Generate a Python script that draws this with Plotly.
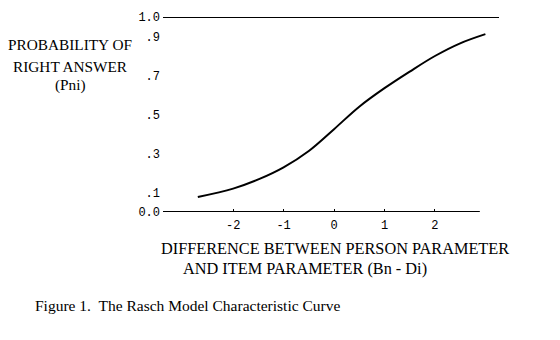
import plotly.graph_objects as go

# Curve values
x_vals = [-2.7, -2.0, -1.5, -1.0, -0.5, 0.0, 0.5, 1.0, 1.5, 2.0, 2.5, 3.0]
p_vals = [0.077, 0.120, 0.167, 0.229, 0.313, 0.425, 0.540, 0.635, 0.720, 0.800, 0.865, 0.912]

# Reference lines (asymptote at 1.0 and baseline at 0.0)
top_line_x = [-3.39, 3.27]
top_line_y = [1.0, 1.0]
base_line_x = [-3.39, 2.89]
base_line_y = [0.0, 0.0]

x_ticks = [-2, -1, 0, 1, 2]
x_ticktext = ["-2", "-1", "0", "1", "2"]
y_ticks = [0.0, 0.1, 0.3, 0.5, 0.7, 0.9, 1.0]
y_ticktext = ["0.0", ".1", ".3", ".5", ".7", ".9", "1.0"]

ylabel_lines = ["PROBABILITY OF", "RIGHT ANSWER", "(Pni)"]
xlabel_lines = ["DIFFERENCE BETWEEN PERSON PARAMETER", "AND ITEM PARAMETER (Bn - Di)"]
caption = "Figure 1.  The Rasch Model Characteristic Curve"

serif = "Liberation Serif, Times New Roman, serif"
mono = "Liberation Mono, Courier New, monospace"

W, H = 560, 340
ml, mr, mt, mb = 163, 61, 17, 128
pw, ph = W - ml - mr, H - mt - mb


def px_to_paper(px, py):
    return (px - ml) / pw, 1 - (py - mt) / ph


fig = go.Figure()
fig.add_trace(go.Scatter(x=top_line_x, y=top_line_y, mode="lines",
                         line=dict(color="black", width=2), cliponaxis=False,
                         hoverinfo="skip"))
fig.add_trace(go.Scatter(x=base_line_x, y=base_line_y, mode="lines",
                         line=dict(color="black", width=2), cliponaxis=False,
                         hoverinfo="skip"))
fig.add_trace(go.Scatter(x=x_vals, y=p_vals, mode="lines",
                         line=dict(color="black", width=2, shape="spline", smoothing=1.0),
                         cliponaxis=False))

annotations = []
for t, py in zip(ylabel_lines, [45, 66, 85]):
    ax, ay = px_to_paper(70, py)
    annotations.append(dict(text=t, xref="paper", yref="paper", x=ax, y=ay,
                            xanchor="center", yanchor="middle", showarrow=False,
                            font=dict(family=serif, size=15.3, color="black")))
for t, (px, py) in zip(xlabel_lines, [(159, 248), (181, 268)]):
    ax, ay = px_to_paper(px, py)
    annotations.append(dict(text=t, xref="paper", yref="paper", x=ax, y=ay,
                            xanchor="left", yanchor="middle", showarrow=False,
                            font=dict(family=serif, size=16.3, color="black")))
ax, ay = px_to_paper(33, 305)
annotations.append(dict(text=caption, xref="paper", yref="paper", x=ax, y=ay,
                        xanchor="left", yanchor="middle", showarrow=False,
                        font=dict(family=serif, size=15.5, color="black")))

fig.update_layout(
    width=W, height=H,
    margin=dict(l=ml, r=mr, t=mt, b=mb, pad=0),
    paper_bgcolor="white", plot_bgcolor="white",
    showlegend=False,
    xaxis=dict(range=[-3.39, 3.27], tickvals=x_ticks, ticktext=x_ticktext,
               showgrid=False, zeroline=False, showline=False,
               ticks="inside", ticklen=3, tickwidth=1, tickcolor="black",
               ticklabelstandoff=4,
               tickfont=dict(family=mono, size=12, color="black")),
    yaxis=dict(range=[0, 1], tickvals=y_ticks, ticktext=y_ticktext,
               showgrid=False, zeroline=False, showline=False,
               ticks="", ticklabelstandoff=2,
               tickfont=dict(family=mono, size=12, color="black")),
    annotations=annotations,
)

fig.write_html("out.html")
